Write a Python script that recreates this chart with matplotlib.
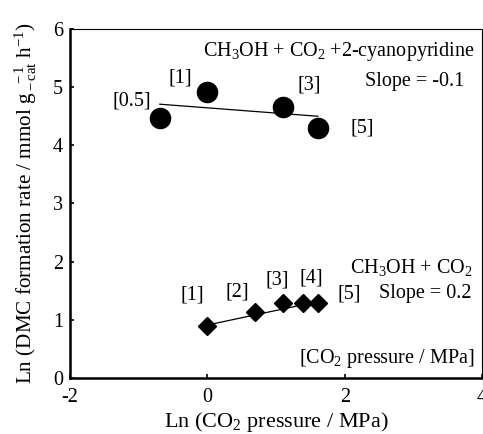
import numpy as np
import matplotlib
matplotlib.use("Agg")
import matplotlib.pyplot as plt

plt.rcParams['font.family'] = ['Liberation Serif', 'DejaVu Serif']
plt.rcParams['mathtext.fontset'] = 'custom'
plt.rcParams['mathtext.rm'] = 'Liberation Serif'
plt.rcParams['mathtext.it'] = 'Liberation Serif:italic'
plt.rcParams['mathtext.bf'] = 'Liberation Serif:bold'

# CO2 pressure (MPa) and ln(DMC formation rate)
pressure_cyano = [0.5, 1, 3, 5]
ln_rate_cyano = [4.47, 4.91, 4.66, 4.30]
pressure_plain = [1, 2, 3, 4, 5]
ln_rate_plain = [0.89, 1.13, 1.29, 1.29, 1.29]

# Fitted lines (intercept, slope)
fit_cyano = (4.64, -0.09)
fit_plain = (0.91, 0.25)

labels_cyano = ['[0.5]', '[1]', '[3]', '[5]']
labels_plain = ['[1]', '[2]', '[3]', '[4]', '[5]']

x_cyano = np.log(pressure_cyano)
x_plain = np.log(pressure_plain)

fig = plt.figure(figsize=(4.83, 4.34), dpi=100)
ax = fig.add_axes([0.145, 0.129, 0.853, 0.805])

# Linear fits
xf = np.array([x_cyano[0], x_cyano[-1]])
ax.plot(xf, fit_cyano[0] + fit_cyano[1] * xf, color='black', lw=0.9, zorder=2)
xf2 = np.array([x_plain[0], x_plain[-1]])
ax.plot(xf2, fit_plain[0] + fit_plain[1] * xf2, color='black', lw=0.9, zorder=2)

ax.plot(x_cyano, ln_rate_cyano, 'o', color='black', markersize=14.5, zorder=3)
ax.plot(x_plain, ln_rate_plain, 'D', color='black', markersize=9.6, zorder=3)

fs = 14.5
fl = 16.0
# Point labels (offsets in data units)
off_cyano = [(-0.41, 0.29), (-0.40, 0.245), (0.39, 0.38), (0.65, -0.01)]
for x, y, t, (dx, dy) in zip(x_cyano, ln_rate_cyano, labels_cyano, off_cyano):
    ax.text(x + dx, y + dy, t, ha='center', va='center', fontsize=fs)
off_plain = [(-0.215, 0.53), (-0.25, 0.34), (-0.075, 0.39), (0.134, 0.42), (0.464, 0.15)]
for x, y, t, (dx, dy) in zip(x_plain, ln_rate_plain, labels_plain, off_plain):
    ax.text(x + dx, y + dy, t, ha='center', va='center', fontsize=fs)

ax.text(3.89, 5.537, r'CH$_3$OH + CO$_2$ +2-cyanopyridine', ha='right', va='baseline', fontsize=fs)
ax.text(3.745, 5.023, 'Slope = -0.1', ha='right', va='baseline', fontsize=fs)
ax.text(3.862, 1.80, r'CH$_3$OH + CO$_2$', ha='right', va='baseline', fontsize=fs)
ax.text(3.847, 1.37, 'Slope = 0.2', ha='right', va='baseline', fontsize=fs)
ax.text(3.89, 0.257, r'[CO$_2$ pressure / MPa]', ha='right', va='baseline', fontsize=fs)

ax.set_xlim(-2, 4)
ax.set_ylim(0, 6)
ax.set_xticks([-2, 0, 2, 4])
ax.set_xticklabels(['-2', '0', '2', '4'])
ax.set_yticks(range(0, 7))

ax.tick_params(direction='in', length=3, width=1.2, labelsize=fs,
               top=False, right=False)
ax.tick_params(axis='x', pad=7)
ax.tick_params(axis='y', pad=5)
ax.spines['left'].set_linewidth(1.8)
ax.spines['bottom'].set_linewidth(1.8)
ax.spines['top'].set_linewidth(0.8)
ax.spines['right'].set_linewidth(0.8)

ax.set_xlabel(r'Ln (CO$_2$ pressure / MPa)', fontsize=fl, labelpad=2)
ax.set_ylabel(r'Ln (DMC formation rate / mmol g$_{\rm -cat}^{\ \ -1}$ h$^{-1}$)',
              fontsize=15.2, labelpad=10)

fig.savefig('out.png', dpi=100)
